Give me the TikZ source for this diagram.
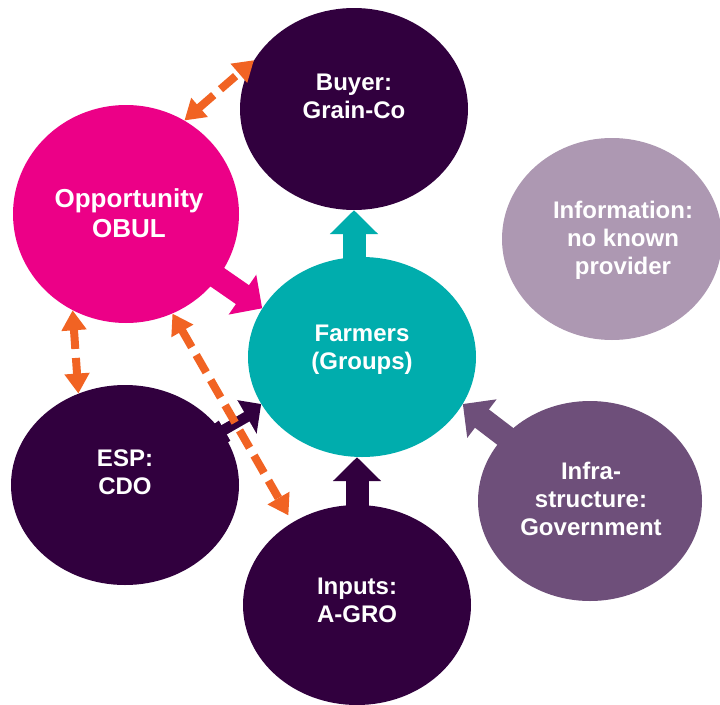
\documentclass[tikz,border=0pt]{standalone}
\usepackage{fontspec}
\setmainfont{Liberation Sans}
\usetikzlibrary{shapes.geometric,arrows.meta,calc}
\definecolor{dpurple}{RGB}{49,0,62}
\definecolor{magentaC}{RGB}{236,0,135}
\definecolor{tealC}{RGB}{0,173,173}
\definecolor{lpurple}{RGB}{173,152,178}
\definecolor{mpurple}{RGB}{110,79,122}
\definecolor{orangeC}{RGB}{241,99,35}
\begin{document}
\begin{tikzpicture}[x=1pt,y=-1pt,
  blob/.style={ellipse,inner sep=0pt,draw=none},
  lbl/.style={text=white,font=\bfseries\fontsize{24}{28}\selectfont,align=center},
  blockarrow/.style={line width=23pt,-{Triangle[length=24pt,width=47pt]}},
  dasharrow/.style={draw=orangeC,line width=8pt,dash pattern=on 20pt off 9pt,
    {Triangle[length=20pt,width=24pt]}-{Triangle[length=20pt,width=24pt]}}]
\fill[white] (0,0) rectangle (720,704);
\useasboundingbox (0,0) rectangle (720,704);
% ellipses
\node[blob,fill=dpurple,minimum width=228pt,minimum height=202pt] (buyer) at (354,109) {};
\node[blob,fill=magentaC,minimum width=226pt,minimum height=218pt] (opp) at (126,214) {};
\node[blob,fill=tealC,minimum width=228pt,minimum height=200pt] (farm) at (362,357) {};
\node[blob,fill=lpurple,minimum width=220pt,minimum height=202pt] (info) at (612,239) {};
\node[blob,fill=mpurple,minimum width=224pt,minimum height=200pt] (infra) at (590,501) {};
\node[blob,fill=dpurple,minimum width=228pt,minimum height=200pt] (esp) at (125,485) {};
\node[blob,fill=dpurple,minimum width=228pt,minimum height=200pt] (inputs) at (357,605) {};
% block arrows
\draw[blockarrow,tealC] (buyer.south |- farm.center) -- (buyer.south);
\draw[blockarrow,magentaC] (opp.center) -- (farm.154);
\draw[blockarrow,dpurple] (inputs.center) -- (inputs.center |- farm.south);
\draw[blockarrow,dpurple] ($(esp.center)+(0,18)$) -- (farm.205);
\draw[blockarrow,mpurple] (infra.center) -- (farm.335);
% labels
\node[lbl] (tbuyer) at (354,96) {Buyer:\\Grain-Co};
\node[lbl,font=\bfseries\fontsize{26}{30}\selectfont] (topp) at (129,213) {Opportunity\\OBUL};
\node[lbl] (tfarm) at (362,350) {Farmers\\(Groups)};
\node[lbl] (tinfo) at (623,240) {Information:\\no known\\provider};
\node[lbl] (tinfra) at (591,499) {Infra-\\structure:\\Government};
\node[lbl] (tesp) at (125,472) {ESP:\\CDO};
\node[lbl] (tinputs) at (357,600) {Inputs:\\A-GRO};
% dashed arrows
\draw[dasharrow] (opp.58) -- (buyer.154);
\draw[dasharrow] (opp.241) -- (esp.117);
\draw[white,line width=26pt,dash pattern=on 0pt off 60pt on 61pt off 11pt on 300pt off 0pt,shorten >=34pt] (opp.295) -- (inputs.128);
\draw[dasharrow,shorten >=8pt] (opp.295) -- (inputs.128);
\end{tikzpicture}
\end{document}
